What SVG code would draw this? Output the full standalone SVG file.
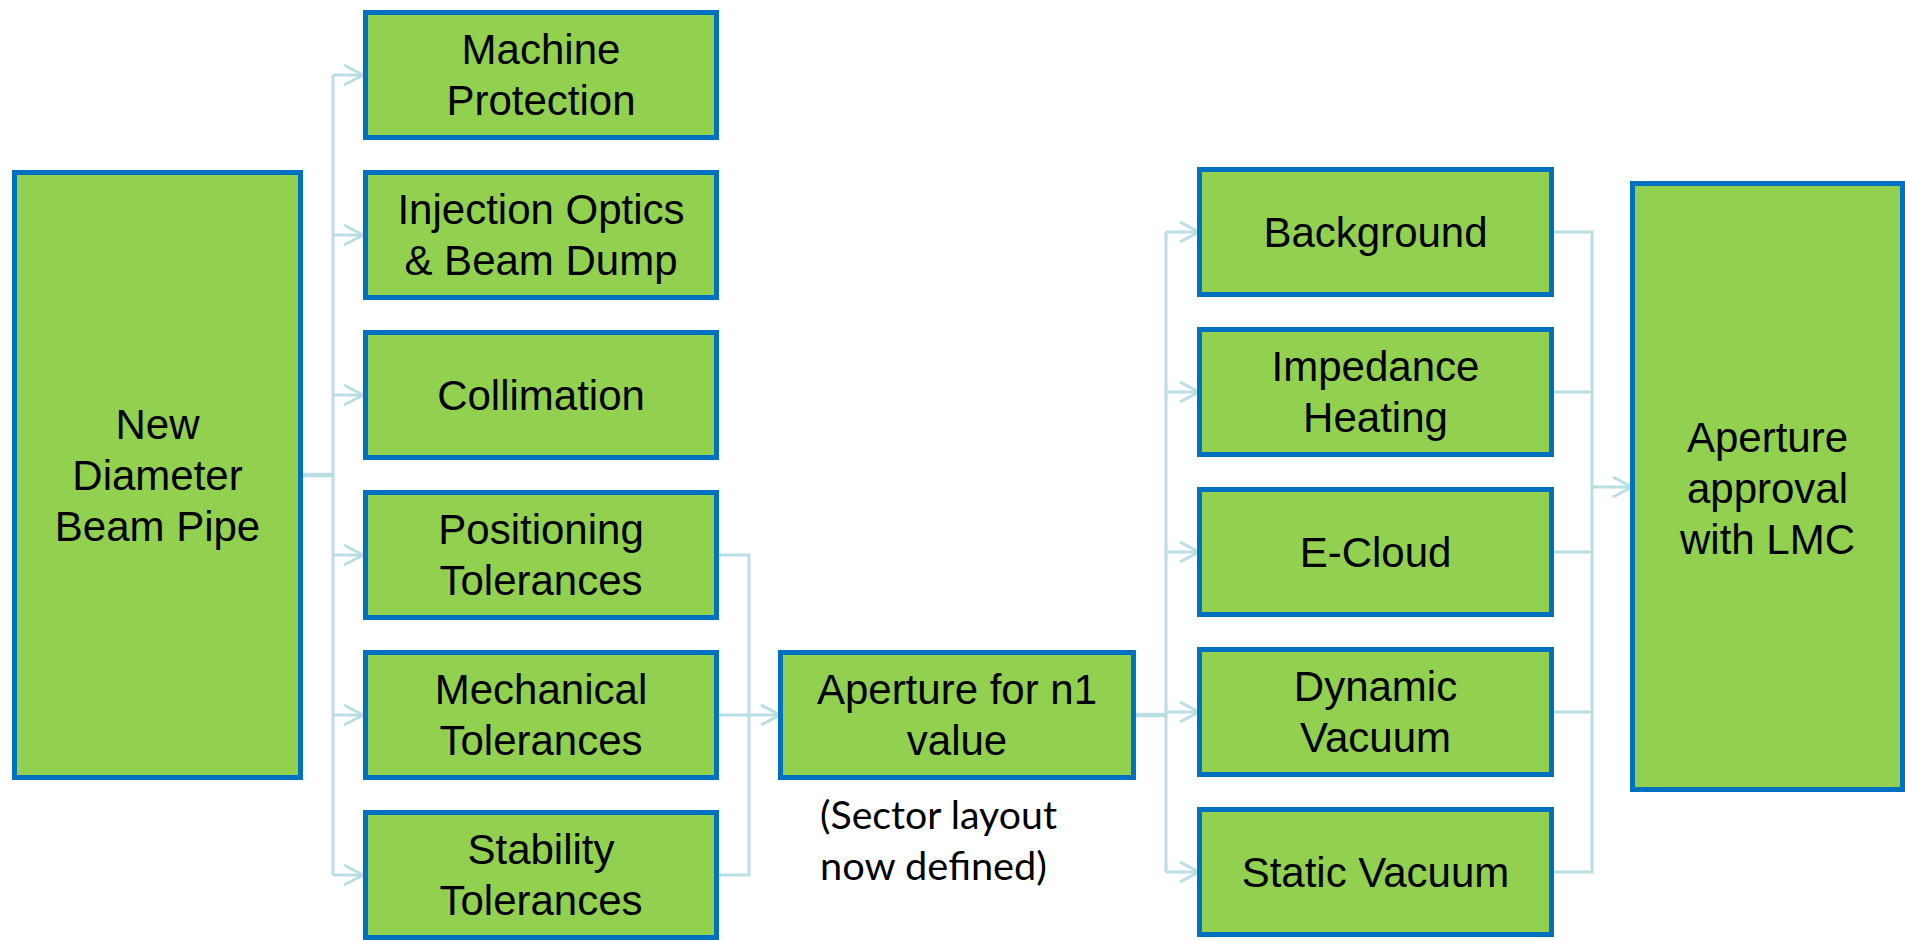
<svg xmlns="http://www.w3.org/2000/svg" width="1905" height="940" viewBox="0 0 1905 940">
  <style>
    .box { fill: #92D050; stroke: #0070C0; stroke-width: 5; }
    .lbl { font-family: "Liberation Sans", Arial, sans-serif; font-size: 42px; fill: #000; text-anchor: middle; }
    .note { font-family: Lato, "Open Sans", sans-serif; font-size: 38px; fill: #000; }
    .wire { fill: none; stroke: #B9DEE4; stroke-width: 3; }
    .trunk { fill: none; stroke: #B9DEE4; stroke-width: 4.5; }
  </style>
  <defs>
    <marker id="arrow" markerUnits="userSpaceOnUse" markerWidth="26" markerHeight="26" refX="21" refY="12" orient="auto">
      <path d="M2,2 L21,12 L2,22" fill="none" stroke="#B9DEE4" stroke-width="3"/>
    </marker>
  </defs>

  <!-- connectors -->
  <g id="connectors">
    <!-- beam pipe fan-out -->
    <path class="trunk" d="M303,475 H333"/>
    <path class="wire" d="M333,75 V875"/>
    <path class="wire" marker-end="url(#arrow)" d="M333,75 H363"/>
    <path class="wire" marker-end="url(#arrow)" d="M333,235 H363"/>
    <path class="wire" marker-end="url(#arrow)" d="M333,395 H363"/>
    <path class="wire" marker-end="url(#arrow)" d="M333,555 H363"/>
    <path class="wire" marker-end="url(#arrow)" d="M333,715 H363"/>
    <path class="wire" marker-end="url(#arrow)" d="M333,875 H363"/>
    <!-- tolerances merge -->
    <path class="wire" d="M719,555 H749 V875 H719"/>
    <path class="wire" d="M719,715 H749"/>
    <path class="wire" marker-end="url(#arrow)" d="M749,715 H780"/>
    <!-- n1 fan-out -->
    <path class="trunk" d="M1136,715 H1166"/>
    <path class="wire" d="M1166,232 V872"/>
    <path class="wire" marker-end="url(#arrow)" d="M1166,232 H1199"/>
    <path class="wire" marker-end="url(#arrow)" d="M1166,392 H1199"/>
    <path class="wire" marker-end="url(#arrow)" d="M1166,552 H1199"/>
    <path class="wire" marker-end="url(#arrow)" d="M1166,712 H1199"/>
    <path class="wire" marker-end="url(#arrow)" d="M1166,872 H1199"/>
    <!-- effects merge -->
    <path class="wire" d="M1554,232 H1592 V872 H1554"/>
    <path class="wire" d="M1554,392 H1592"/>
    <path class="wire" d="M1554,552 H1592"/>
    <path class="wire" d="M1554,712 H1592"/>
    <path class="wire" marker-end="url(#arrow)" d="M1592,487 H1632"/>
  </g>

  <g id="new-diameter">
    <rect class="box" x="14.5" y="172.5" width="286" height="605"/>
    <text class="lbl" x="157.5" y="439">New</text>
    <text class="lbl" x="157.5" y="490">Diameter</text>
    <text class="lbl" x="157.5" y="541">Beam Pipe</text>
  </g>

  <g id="machine-protection">
    <rect class="box" x="365.5" y="12.5" width="351" height="125"/>
    <text class="lbl" x="541" y="64">Machine</text>
    <text class="lbl" x="541" y="115">Protection</text>
  </g>
  <g id="injection-optics">
    <rect class="box" x="365.5" y="172.5" width="351" height="125"/>
    <text class="lbl" x="541" y="224">Injection Optics</text>
    <text class="lbl" x="541" y="275">&amp; Beam Dump</text>
  </g>
  <g id="collimation">
    <rect class="box" x="365.5" y="332.5" width="351" height="125"/>
    <text class="lbl" x="541" y="410">Collimation</text>
  </g>
  <g id="positioning">
    <rect class="box" x="365.5" y="492.5" width="351" height="125"/>
    <text class="lbl" x="541" y="544">Positioning</text>
    <text class="lbl" x="541" y="595">Tolerances</text>
  </g>
  <g id="mechanical">
    <rect class="box" x="365.5" y="652.5" width="351" height="125"/>
    <text class="lbl" x="541" y="704">Mechanical</text>
    <text class="lbl" x="541" y="755">Tolerances</text>
  </g>
  <g id="stability">
    <rect class="box" x="365.5" y="812.5" width="351" height="125"/>
    <text class="lbl" x="541" y="864">Stability</text>
    <text class="lbl" x="541" y="915">Tolerances</text>
  </g>

  <g id="aperture-n1">
    <rect class="box" x="780.5" y="652.5" width="353" height="125"/>
    <text class="lbl" x="957" y="704">Aperture for n1</text>
    <text class="lbl" x="957" y="755">value</text>
  </g>
  <g id="sector-note">
    <text class="note" x="820" y="829" textLength="237" lengthAdjust="spacingAndGlyphs">(Sector layout</text>
    <text class="note" x="820" y="880" textLength="227" lengthAdjust="spacingAndGlyphs">now defined)</text>
  </g>

  <g id="background">
    <rect class="box" x="1199.5" y="169.5" width="352" height="125"/>
    <text class="lbl" x="1375.5" y="247">Background</text>
  </g>
  <g id="impedance">
    <rect class="box" x="1199.5" y="329.5" width="352" height="125"/>
    <text class="lbl" x="1375.5" y="381">Impedance</text>
    <text class="lbl" x="1375.5" y="432">Heating</text>
  </g>
  <g id="e-cloud">
    <rect class="box" x="1199.5" y="489.5" width="352" height="125"/>
    <text class="lbl" x="1375.5" y="567">E-Cloud</text>
  </g>
  <g id="dynamic-vacuum">
    <rect class="box" x="1199.5" y="649.5" width="352" height="125"/>
    <text class="lbl" x="1375.5" y="701">Dynamic</text>
    <text class="lbl" x="1375.5" y="752">Vacuum</text>
  </g>
  <g id="static-vacuum">
    <rect class="box" x="1199.5" y="809.5" width="352" height="125"/>
    <text class="lbl" x="1375.5" y="887">Static Vacuum</text>
  </g>

  <g id="aperture-approval">
    <rect class="box" x="1632.5" y="183.5" width="270" height="606"/>
    <text class="lbl" x="1767.5" y="452">Aperture</text>
    <text class="lbl" x="1767.5" y="503">approval</text>
    <text class="lbl" x="1767.5" y="554">with LMC</text>
  </g>
</svg>
